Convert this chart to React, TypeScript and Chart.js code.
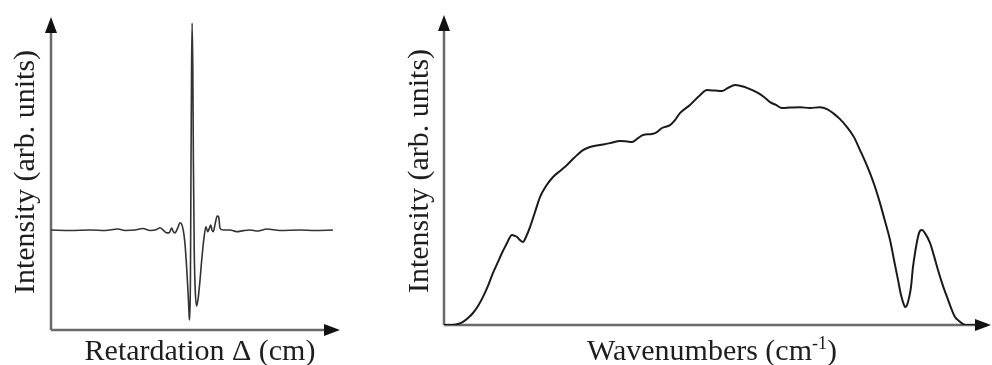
import React, { useEffect, useRef } from "react";
import { Chart, registerables } from "chart.js";

Chart.register(...registerables);

// ---------- Interferogram (left) ----------
const retardation = [
  -1.0, -0.865, -0.723, -0.617, -0.525, -0.475, -0.404, -0.348, -0.298, -0.25, -0.227, -0.204,
  -0.179, -0.161, -0.144, -0.135, -0.121, -0.101, -0.085, -0.074, -0.062, -0.05, -0.038, -0.026,
  -0.019, -0.016, -0.011, -0.007, -0.003, 0.001, 0.006, 0.01, 0.016, 0.023, 0.033, 0.045, 0.057,
  0.069, 0.085, 0.099, 0.111, 0.123, 0.133, 0.142, 0.151, 0.165, 0.179, 0.189, 0.199, 0.222, 0.27,
  0.317, 0.364, 0.411, 0.468, 0.532, 0.624, 0.766, 0.872, 1.0,
];
const interferogram = [
  0, -0.002, 0, -0.002, 0.005, -0.002, 0, 0.007, -0.002, 0.003, 0.011, 0,
  -0.014, -0.013, 0.01, -0.005, -0.014, 0.01, 0.035, 0.029, 0, -0.063, -0.179, -0.324,
  -0.425, -0.435, -0.242, 0.29, 0.773, 1.0, 0.773, 0.338, -0.097, -0.29, -0.367, -0.324, -0.242,
  -0.145, -0.039, 0.016, -0.008, 0.008, 0.024, 0, -0.008, 0.032, 0.068, 0.064, 0.008, 0, 0,
  -0.008, -0.003, 0, -0.005, 0.005, -0.002, 0, -0.002, 0,
];

// ---------- Spectrum (right) ----------
const wavenumbers = [
  0, 14.6, 25.6, 34.7, 43.9, 53.0, 62.2, 71.3, 80.4, 89.6, 98.7, 106.0, 115.2, 120.7, 124.3, 129.8,
  133.5, 138.9, 144.4, 149.9, 157.2, 166.4, 175.5, 186.5, 199.3, 212.1, 224.9, 234.0, 243.1, 254.1,
  266.9, 285.2, 303.5, 321.8, 334.6, 343.7, 354.7, 363.8, 380.3, 389.4, 398.5, 413.2, 422.3, 431.4,
  449.7, 468.0, 480.8, 495.4, 508.2, 519.2, 532.0, 543.0, 553.9, 574.0, 585.0, 596.0, 606.9, 617.9,
  632.5, 650.8, 669.1, 687.4, 700.2, 711.2, 724.0, 736.7, 749.5, 760.5, 769.7, 778.8, 788.0, 797.1,
  806.2, 815.4, 822.7, 830.0, 835.5, 839.1, 842.8, 846.4, 850.1, 853.7, 857.4, 861.1, 866.5, 870.2,
  873.9, 879.3, 888.5, 895.8, 903.1, 912.2, 919.6, 926.9, 934.2, 941.5, 948.8, 957.9, 970.7, 989.0,
];
const spectrum = [
  0, 0, 0.004, 0.013, 0.029, 0.05, 0.079, 0.117, 0.163, 0.217, 0.263, 0.3, 0.342, 0.367, 0.375, 0.371,
  0.367, 0.354, 0.346, 0.367, 0.408, 0.471, 0.533, 0.579, 0.617, 0.642, 0.667, 0.688, 0.708, 0.729,
  0.742, 0.75, 0.758, 0.767, 0.765, 0.763, 0.779, 0.792, 0.796, 0.804, 0.821, 0.833, 0.854, 0.883,
  0.917, 0.958, 0.979, 0.977, 0.975, 0.988, 1.0, 0.996, 0.988, 0.967, 0.95, 0.929, 0.917, 0.904,
  0.906, 0.908, 0.904, 0.908, 0.9, 0.883, 0.858, 0.825, 0.783, 0.729, 0.683, 0.633, 0.575, 0.508,
  0.433, 0.354, 0.271, 0.188, 0.125, 0.096, 0.075, 0.083, 0.113, 0.158, 0.242, 0.3, 0.367, 0.392,
  0.396, 0.383, 0.342, 0.288, 0.229, 0.163, 0.117, 0.071, 0.033, 0.017, 0.004, 0, 0, 0,
];

const yTitle = "Intensity (arb. units)";
const leftXTitle = "Retardation Δ (cm)";
const rightXTitleMain = "Wavenumbers (cm";
const rightXTitleSup = "-1";
const rightXTitleEnd = ")";

const FONT = '"Liberation Serif", "Times New Roman", serif';
const AXIS_COLOR = "#6a6a6a";
const ARROW_COLOR = "#111";
const TEXT_COLOR = "#1e1e1e";

type Cfg = {
  yTitleX: number; // offset from chart area left
  yTitleY: number; // absolute within canvas
  xTitleX: number;
  xTitleY: number;
  superscript: boolean;
};

function axesPlugin(cfg: Cfg) {
  return {
    id: "arrowAxes",
    beforeDatasetsDraw(chart: any) {
      const { ctx, chartArea } = chart;
      const { left, right, top, bottom } = chartArea;
      const headL = 16;
      const headW = 6;
      ctx.save();
      ctx.strokeStyle = AXIS_COLOR;
      ctx.lineWidth = 2.5;
      ctx.beginPath();
      ctx.moveTo(left, bottom);
      ctx.lineTo(right - headL + 1, bottom);
      ctx.moveTo(left, bottom);
      ctx.lineTo(left, top + headL - 1);
      ctx.stroke();
      ctx.fillStyle = ARROW_COLOR;
      ctx.beginPath();
      ctx.moveTo(right, bottom);
      ctx.lineTo(right - headL, bottom - headW);
      ctx.lineTo(right - headL, bottom + headW);
      ctx.closePath();
      ctx.fill();
      ctx.beginPath();
      ctx.moveTo(left, top);
      ctx.lineTo(left - headW, top + headL);
      ctx.lineTo(left + headW, top + headL);
      ctx.closePath();
      ctx.fill();
      ctx.restore();
    },
    afterDraw(chart: any) {
      const { ctx } = chart;
      ctx.save();
      ctx.fillStyle = TEXT_COLOR;
      ctx.font = `30px ${FONT}`;
      ctx.textBaseline = "alphabetic";
      // y title
      ctx.save();
      ctx.translate(cfg.yTitleX, cfg.yTitleY);
      ctx.rotate(-Math.PI / 2);
      ctx.textAlign = "center";
      ctx.textBaseline = "middle";
      ctx.fillText(yTitle, 0, 0);
      ctx.restore();
      // x title
      if (!cfg.superscript) {
        ctx.textAlign = "center";
        ctx.fillText(leftXTitle, cfg.xTitleX, cfg.xTitleY);
      } else {
        ctx.textAlign = "left";
        ctx.font = `30px ${FONT}`;
        const w1 = ctx.measureText(rightXTitleMain).width;
        const w3 = ctx.measureText(rightXTitleEnd).width;
        ctx.font = `18px ${FONT}`;
        const w2 = ctx.measureText(rightXTitleSup).width;
        const total = w1 + w2 + w3;
        let x = cfg.xTitleX - total / 2;
        ctx.font = `30px ${FONT}`;
        ctx.fillText(rightXTitleMain, x, cfg.xTitleY);
        x += w1;
        ctx.font = `18px ${FONT}`;
        ctx.fillText(rightXTitleSup, x, cfg.xTitleY - 11);
        x += w2;
        ctx.font = `30px ${FONT}`;
        ctx.fillText(rightXTitleEnd, x, cfg.xTitleY);
      }
      ctx.restore();
    },
  };
}

function makeChart(
  canvas: HTMLCanvasElement,
  xs: number[],
  ys: number[],
  color: string,
  width: number,
  xmin: number,
  xmax: number,
  ymin: number,
  ymax: number,
  padding: { left: number; right: number; top: number; bottom: number },
  cfg: Cfg
) {
  return new Chart(canvas, {
    type: "line",
    data: {
      datasets: [
        {
          data: xs.map((x, i) => ({ x, y: ys[i] })),
          borderColor: color,
          borderWidth: width,
          pointRadius: 0,
          cubicInterpolationMode: "monotone",
          fill: false,
        },
      ],
    },
    options: {
      responsive: false,
      animation: false,
      devicePixelRatio: 1,
      layout: { padding },
      plugins: { legend: { display: false }, tooltip: { enabled: false } },
      scales: {
        x: { type: "linear", min: xmin, max: xmax, display: false },
        y: { type: "linear", min: ymin, max: ymax, display: false },
      },
    },
    plugins: [axesPlugin(cfg)],
  } as any);
}

export default function App() {
  const leftRef = useRef<HTMLCanvasElement>(null);
  const rightRef = useRef<HTMLCanvasElement>(null);

  useEffect(() => {
    const left = makeChart(
      leftRef.current!,
      retardation,
      interferogram,
      "#333",
      1.6,
      -1.0,
      1.05,
      -0.483,
      1.029,
      { left: 51, right: 10, top: 17, bottom: 35 },
      { yTitleX: 26, yTitleY: 172, xTitleX: 200, xTitleY: 360, superscript: false }
    );
    const right = makeChart(
      rightRef.current!,
      wavenumbers,
      spectrum,
      "#1a1a1a",
      2,
      0,
      1000,
      0,
      1.292,
      { left: 94, right: 1, top: 15, bottom: 40 },
      { yTitleX: 70, yTitleY: 171, xTitleX: 362, xTitleY: 360, superscript: true }
    );
    return () => {
      left.destroy();
      right.destroy();
    };
  }, []);

  return (
    <div style={{ position: "absolute", left: 0, top: 0, width: 992, height: 365, background: "#fff" }}>
      <canvas ref={leftRef} width={350} height={365} style={{ position: "absolute", left: 0, top: 0 }} />
      <canvas ref={rightRef} width={642} height={365} style={{ position: "absolute", left: 350, top: 0 }} />
    </div>
  );
}
